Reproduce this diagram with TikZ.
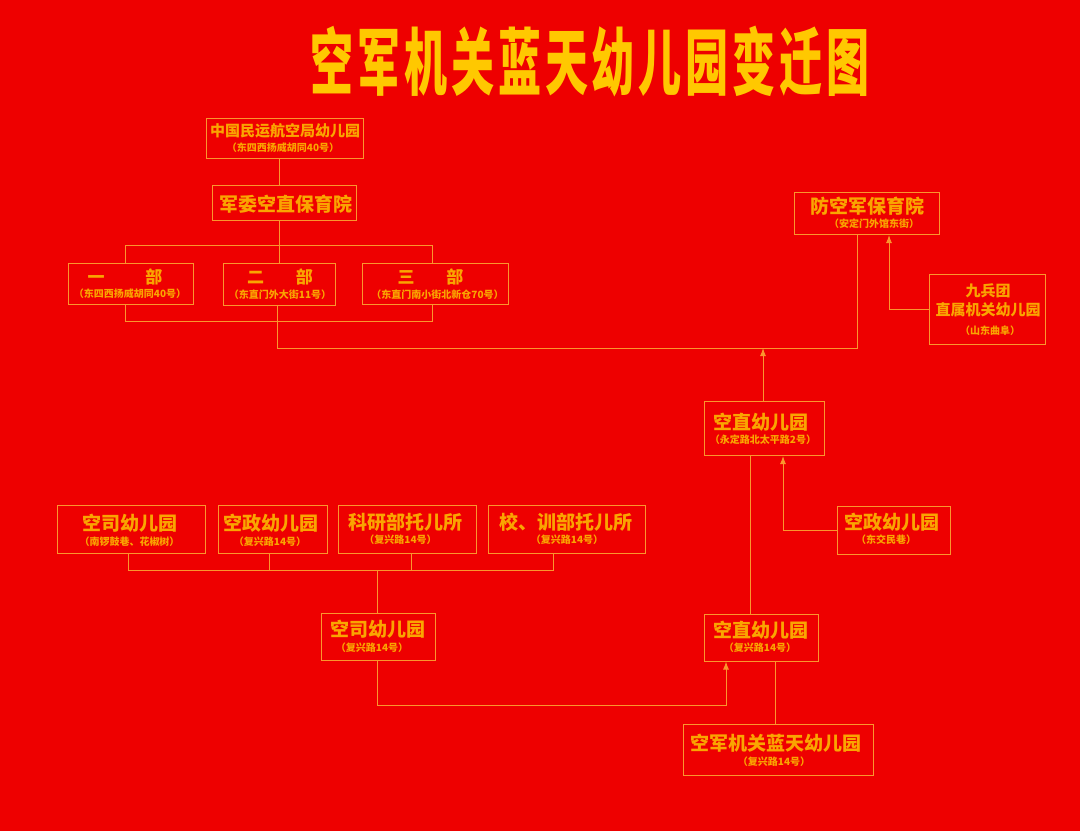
\documentclass[tikz,border=0pt]{standalone}
\usepackage{fontspec}
\setmainfont{Noto Sans CJK SC}
\newfontfamily\headfont[LetterSpace=9]{Noto Sans CJK SC}
\usetikzlibrary{arrows.meta}
\definecolor{bgred}{RGB}{238,0,0}
\definecolor{linegold}{RGB}{250,150,45}
\definecolor{textgold}{RGB}{250,165,0}
\definecolor{titlegold}{RGB}{255,200,0}
\tikzset{
  box/.style={draw=linegold,line width=1pt,inner sep=0pt,anchor=north west},
  wire/.style={draw=linegold,line width=1pt},
  big/.style={text=textgold,inner sep=0pt,font=\bfseries\fontsize{19}{19}\selectfont},
  mid/.style={text=textgold,inner sep=0pt,font=\bfseries\fontsize{15}{15}\selectfont},
  dept/.style={text=textgold,inner sep=0pt,font=\bfseries\fontsize{17}{17}\selectfont},
  addr/.style={text=textgold,inner sep=0pt,font=\bfseries\fontsize{10}{10}\selectfont},
}
\begin{document}
\begin{tikzpicture}[x=1pt,y=-1pt,>={Latex[length=8pt,width=6pt]}]
\fill [bgred] (0,0) rectangle (1080,831);
\useasboundingbox (0,0) rectangle (1080,831);

\node [text=titlegold,inner sep=0pt,font=\headfont\bfseries\fontsize{43}{43}\selectfont] (heading) at (590,62)
  {\scalebox{1}[1.7]{空军机关蓝天幼儿园变迁图}};

% top left
\node [box,minimum width=157pt,minimum height=40pt] (minhang) at (206,118) {};
\node [mid] (minhangname) at (285,131) {中国民运航空局幼儿园};
\node [addr] (minhangaddr) at (283,148) {（东四西扬威胡同40号）};
\node [box,minimum width=144pt,minimum height=35pt] (junwei) at (212,185) {};
\node [big] (junweiname) at (286,204) {军委空直保育院};

\node [box,minimum width=125.5pt,minimum height=41pt] (yibu) at (67.5,263) {};
\node [dept] (yibuname) at (125,277) {一\hspace{41pt}部};
\node [addr] (yibuaddr) at (130,294) {（东四西扬威胡同40号）};
\node [box,minimum width=112pt,minimum height=42pt] (erbu) at (223,263) {};
\node [dept] (erbuname) at (280,277) {二\hspace{32pt}部};
\node [addr] (erbuaddr) at (280,295) {（东直门外大街11号）};
\node [box,minimum width=146pt,minimum height=41pt] (sanbu) at (362,263) {};
\node [dept] (sanbuname) at (430.5,277) {三\hspace{32pt}部};
\node [addr] (sanbuaddr) at (437.5,295) {（东直门南小街北新仓70号）};

% top right
\node [box,minimum width=145.5pt,minimum height=42pt] (fangkong) at (793.5,192) {};
\node [big] (fangkongname) at (867,206) {防空军保育院};
\node [addr] (fangkongaddr) at (874,224) {（安定门外馆东街）};
\node [box,minimum width=116pt,minimum height=70pt] (jiubing) at (929,274) {};
\node [mid] (jiubingname) at (988,291) {九兵团};
\node [mid] (jiubingsub) at (988,310) {直属机关幼儿园};
\node [addr] (jiubingaddr) at (990,331) {（山东曲阜）};
\node [box,minimum width=120pt,minimum height=54pt] (kongzhi) at (704,401) {};
\node [big] (kongzhiname) at (761,422) {空直幼儿园};
\node [addr] (kongzhiaddr) at (763,440) {（永定路北太平路2号）};
\node [box,minimum width=113.5pt,minimum height=47.5pt] (dongjiao) at (836.5,506) {};
\node [big] (dongjiaoname) at (891.5,522) {空政幼儿园};
\node [addr] (dongjiaoaddr) at (886,540) {（东交民巷）};

% lower left
\node [box,minimum width=148pt,minimum height=48pt] (kongsi) at (57,505) {};
\node [big] (kongsiname) at (129.5,523) {空司幼儿园};
\node [addr] (kongsiaddr) at (129.5,542) {（南锣鼓巷、花椒树）};
\node [box,minimum width=108.5pt,minimum height=48pt] (kongzheng) at (218,505) {};
\node [big] (kongzhengname) at (271,523) {空政幼儿园};
\node [addr] (kongzhengaddr) at (270,542) {（复兴路14号）};
\node [box,minimum width=138pt,minimum height=48pt] (keyan) at (338,505) {};
\node [big] (keyanname) at (405.5,522) {科研部托儿所};
\node [addr] (keyanaddr) at (400.5,540) {（复兴路14号）};
\node [box,minimum width=157.5pt,minimum height=48pt] (xiaoxun) at (487.5,505) {};
\node [big] (xiaoxunname) at (565.5,522) {校、训部托儿所};
\node [addr] (xiaoxunaddr) at (567,540) {（复兴路14号）};
\node [box,minimum width=114pt,minimum height=47pt] (kongsilow) at (320.5,613) {};
\node [big] (kongsilowname) at (377.5,629) {空司幼儿园};
\node [addr] (kongsilowaddr) at (372,648) {（复兴路14号）};

% lower right
\node [box,minimum width=114pt,minimum height=47pt] (kongzhilow) at (703.5,613.5) {};
\node [big] (kongzhilowname) at (760.5,630) {空直幼儿园};
\node [addr] (kongzhilowaddr) at (760,648) {（复兴路14号）};
\node [box,minimum width=190.5pt,minimum height=51pt] (lantian) at (682.5,724) {};
\node [big] (lantianname) at (776,743) {空军机关蓝天幼儿园};
\node [addr] (lantianaddr) at (774,762) {（复兴路14号）};

% free ends of the wires
\coordinate (topbusl) at (125,245);
\coordinate (topbusm) at (279.5,245);
\coordinate (topbusr) at (432,245);
\coordinate (lowbusl) at (125,321);
\coordinate (lowbusr) at (432,321);
\coordinate (feedl) at (277,348);
\coordinate (feedr) at (857,348);
\coordinate (feedm) at (763,348);
\coordinate (jiubingbend) at (889,309);
\coordinate (dongjiaobend) at (783,530);
\coordinate (midstem) at (750,530);
\coordinate (lanstem) at (775,700);
\coordinate (kidbusl) at (128,570);
\coordinate (kidbusa) at (269.5,570);
\coordinate (kidbusm) at (377,570);
\coordinate (kidbusb) at (411,570);
\coordinate (kidbusr) at (553,570);
\coordinate (kongsibend) at (377,705);
\coordinate (kongzhibend) at (726,705);

\draw [wire] (topbusm |- minhang.south) -- (topbusm |- junwei.north);
\draw [wire] (topbusm |- junwei.south) -- (topbusm |- erbu.north);
\draw [wire] (topbusl |- yibu.north) -- (topbusl) -- (topbusr) -- (topbusr |- sanbu.north);
\draw [wire] (lowbusl |- yibu.south) -- (lowbusl) -- (lowbusr) -- (lowbusr |- sanbu.south);
\draw [wire] (feedl |- erbu.south) -- (feedl) -- (feedr) -- (feedr |- fangkong.south);
\draw [wire,->] (jiubing.west |- jiubingbend) -- (jiubingbend) -- (jiubingbend |- fangkong.south);
\draw [wire,->] (feedm |- kongzhi.north) -- (feedm);
\draw [wire,->] (dongjiao.west |- dongjiaobend) -- (dongjiaobend) -- (dongjiaobend |- kongzhi.south);
\draw [wire] (midstem |- kongzhi.south) -- (midstem |- kongzhilow.north);
\draw [wire] (lanstem |- kongzhilow.south) -- (lanstem |- lantian.north);
\draw [wire] (kidbusl |- kongsi.south) -- (kidbusl) -- (kidbusr) -- (kidbusr |- xiaoxun.south);
\draw [wire] (kidbusa |- kongzheng.south) -- (kidbusa);
\draw [wire] (kidbusb |- keyan.south) -- (kidbusb);
\draw [wire] (kidbusm) -- (kidbusm |- kongsilow.north);
\draw [wire,->] (kongsibend |- kongsilow.south) -- (kongsibend) -- (kongzhibend) -- (kongzhibend |- kongzhilow.south);

\end{tikzpicture}
\end{document}
